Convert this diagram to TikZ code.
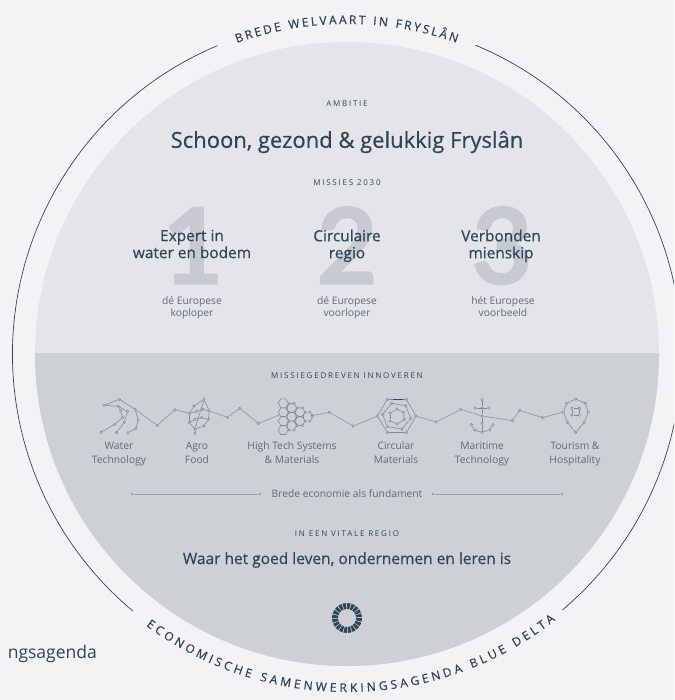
\documentclass[tikz,border=0pt]{standalone}
\usepackage{fontspec}
\setmainfont{Open Sans}
\newfontfamily\medf[FakeBold=0.5]{Open Sans}
\newfontfamily\capf[LetterSpace=22]{Open Sans}
\newfontfamily\numf[BoldFeatures={FakeBold=1}]{Lato}
\usetikzlibrary{decorations.text}
\definecolor{bgc}{HTML}{F3F3F6}
\definecolor{upc}{HTML}{E4E5E9}
\definecolor{loc}{HTML}{CDD0D5}
\definecolor{numc}{HTML}{C7CAD1}
\definecolor{dark}{HTML}{2F4558}
\definecolor{mid}{HTML}{5D6B7A}
\definecolor{icon}{HTML}{7F8A96}
\definecolor{connc}{HTML}{98A1AB}
\tikzset{
  x=1pt,y=-1pt,
  struts/.style={execute at begin node=\strut,execute at end node=\strut},
  caps/.style={font=\capf\fontsize{8}{9}\selectfont,text=dark,align=center},
  head/.style={font=\medf\fontsize{22}{24}\selectfont,text=dark},
  sub/.style={font=\medf\fontsize{15.4}{17}\selectfont,text=dark,align=center,struts},
  small/.style={font=\fontsize{10.3}{12}\selectfont,text=mid,align=center,struts},
  lab/.style={font=\fontsize{10.3}{14}\selectfont,text=mid,align=center,struts},
  num/.style={font=\numf\bfseries\fontsize{106}{106}\selectfont,text=numc},
  dot/.style={circle,draw=icon,fill=loc,line width=.5pt,inner sep=0pt,minimum size=2.6pt},
  enddot/.style={circle,fill=connc,inner sep=0pt,minimum size=2.8pt},
  iconline/.style={draw=icon,line width=.55pt},
  connl/.style={draw=connc,line width=.8pt},
  ring/.style={draw=dark,line width=.7pt},
  rulel/.style={draw=connc,line width=.8pt},
}
\begin{document}
\begin{tikzpicture}
\useasboundingbox (0,0) rectangle (674,700);
\clip (0,0) rectangle (674,700);
\fill[bgc] (0,0) rectangle (674,700);
% discs
\fill[upc] (347,354) circle[radius=312pt];
\begin{scope}
\clip (0,353) rectangle (674,700);
\fill[loc] (347,354) circle[radius=312pt];
\end{scope}
% outer ring
\draw[ring] ({347+334.5*cos(67.4)},{354-334.5*sin(67.4)}) arc[start angle=67.4,end angle=-49.9,radius=334.5pt];
\draw[ring] ({347+334.5*cos(112.8)},{354-334.5*sin(112.8)}) arc[start angle=112.8,end angle=230.2,radius=334.5pt];
% ring texts
\path[decorate,decoration={text along path,text align={fit to path},
  text={|\medf\fontsize{12}{13}\selectfont\color{dark}|BREDE WELVAART IN FRYSLÂN}}]
  ({347+330*cos(109.5)},{354-330*sin(109.5)}) arc[start angle=109.5,end angle=70.6,radius=330pt];
\path[decorate,decoration={text along path,text align={fit to path},
  text={|\medf\fontsize{12}{13}\selectfont\color{dark}|ECONOMISCHE SAMENWERKINGSAGENDA BLUE DELTA}}]
  ({347+338*cos(233.5)},{354-338*sin(233.5)}) arc[start angle=233.5,end angle=308,radius=338pt];
\node[anchor=base east,inner sep=0pt,font=\fontsize{17.5}{20}\selectfont,text=dark] (frag) at (97,658) {ngsagenda};
% top
\node[caps] (amb) at (347,104) {AMBITIE};
\node[head] (title) at (347,142) {Schoon, gezond \& gelukkig Fryslân};
\node[caps] (mis) at (347,183) {MISSIES 2030};
\node[num,anchor=base] (n1) at (193,284) {1};
\node[num,anchor=base] (n2) at (347,284) {2};
\node[num,anchor=base] (n3) at (502,284) {3};
\node[sub] (m1) at (192,246.5) {Expert in\\water en bodem};
\node[sub] (m2) at (347,246.5) {Circulaire\\regio};
\node[sub] (m3) at (501,246.5) {Verbonden\\mienskip};
\node[small] (d1) at (192,308) {dé Europese\\koploper};
\node[small] (d2) at (347,308) {dé Europese\\voorloper};
\node[small] (d3) at (503,308) {hét Europese\\voorbeeld};
% lower
\node[caps] (inn) at (347,376) {MISSIEGEDREVEN INNOVEREN};
\node[lab] (l1) at (119,455) {Water\\Technology};
\node[lab] (l2) at (197,455) {Agro\\Food};
\node[lab] (l3) at (292,455) {High Tech Systems\\\& Materials};
\node[lab] (l4) at (396,455) {Circular\\Materials};
\node[lab] (l5) at (482,455) {Maritime\\Technology};
\node[lab] (l6) at (575,455) {Tourism \&\\Hospitality};
\node[font=\fontsize{10.3}{14}\selectfont,text=mid] (br) at (347,494) {Brede economie als fundament};
\node[enddot] (b1) at (132,494) {};
\node[enddot] (b2) at (260,494) {};
\node[enddot] (b3) at (433,494) {};
\node[enddot] (b4) at (562,494) {};
\draw[rulel] (b1) -- (b2);
\draw[rulel] (b3) -- (b4);
\node[caps] (vit) at (347,534) {IN EEN VITALE REGIO};
\node[font=\medf\fontsize{15.5}{17}\selectfont,text=dark] (waar) at (347,560) {Waar het goed leven, ondernemen en leren is};
% logo
\foreach \a in {0,18,...,342}{
  \fill[dark] ({347+9*cos(\a)},{618+9*sin(\a)}) -- ({347+15*cos(\a)},{618+15*sin(\a)})
     arc[start angle=-\a,end angle=-\a-14,radius=15pt] -- ({347+9*cos(\a+14)},{618+9*sin(\a+14)}) -- cycle;
}
% icons (coordinates of 3x crop)
\begin{scope}[shift={(80,380)},x=.3333pt,y=-.3333pt]
\foreach \n/\px/\py in {
 wa/72/76,wb/118/58,wc/165/88,wd/115/79,we/142/94,wf/128/112,wg/104/133,wh/63/157,wi/175/120,wj/167/146,wk/144/158,wl/133/127,wm/109/158,wn/122/92,
 aa/372/58,ab/342/78,ac/328/100,ad/328/128,ae/345/147,af/372/138,ag/385/118,ah/388/93,ai/350/94,aj/368/88,ak/345/118,al/365/113,am/345/160,
 x1/232/136,x2/285/89,x3/442/112,x4/479/85,x5/535/130,x6/748/97,
 hr/697/107}
 {\node[dot] (\n) at (\px,\py) {};}
\foreach \a/\b in {wa/wb,wb/wc,wa/wd,wd/we,we/wl,wl/wm,wd/wn,wn/wf,wf/wg,wg/wh,wc/wi,wi/wj,wj/wk,
 aa/ab,ab/ac,ac/ad,ad/ae,ae/af,af/ag,ag/ah,ah/aa,aa/ae,ae/am,ai/aj,ak/al,ac/ai,ah/aj,ad/ak,ag/al}
 {\draw[iconline] (\a) -- (\b);}
\foreach \a/\b in {wc/x1,x1/x2,x2/ac,ah/x3,x3/x4,x4/x5}
 {\draw[connl] (\a) -- (\b);}
% hexagon cluster
\foreach \cx/\cy in {610/70,610/97,610/123,610/150,635/84,635/110,635/137,660/97,660/123,683/110}{
  \draw[iconline] (\cx-15,\cy) -- (\cx-7.5,\cy-13.5) -- (\cx+7.5,\cy-13.5) -- (\cx+15,\cy) -- (\cx+7.5,\cy+13.5) -- (\cx-7.5,\cy+13.5) -- cycle;
}
\foreach \cx/\cy in {635/84,635/110,635/137,660/97,660/123,683/110}{
  \foreach \ox/\oy in {-15/0,-7.5/-13.5,7.5/-13.5,15/0,7.5/13.5,-7.5/13.5}{
    \path[draw=icon,fill=loc,line width=.4pt] (\cx+\ox,\cy+\oy) circle[radius=1.1pt];
  }
}
\coordinate (hl) at (598,105);
\draw[connl] (x5) -- (hl);
\draw[connl] (hr) -- (x6);
\end{scope}
\begin{scope}[shift={(340,380)},x=.3333pt,y=-.3333pt]
\foreach \n/\px/\py in {
 y1/40/138,
 ca/112/108,cb/142/58,cc/199/58,cd/228/108,ce/199/158,cf/142/158,
 cg/155/70,ch/197/77,ci/212/115,cj/186/147,ck/142/140,cl/128/103,
 cm/150/100,cn/170/87,co/190/97,cp/193/118,cq/172/132,cr/150/123,
 y2/289/126,y3/362/88,
 ma/426/59,mb/426/84,mc/406/84,md/446/84,me/426/108,mf/426/130,mg/426/157,mh/394/134,mi/404/150,mj/449/150,mk/459/134,
 y4/517/122,y5/539/91,y6/607/113,
 ta/707/57,tb/736/70,tc/745/96,td/732/128,te/707/158,tf/683/128,tg/670/96,th/680/70,
 ti/696/85,tj/718/85,tk/718/105,tl/696/105}
 {\node[dot] (\n) at (\px,\py) {};}
\foreach \a/\b in {ca/cb,cb/cc,cc/cd,cd/ce,ce/cf,cf/ca,cg/ch,ch/ci,ci/cj,cj/ck,ck/cl,cl/cg,
 cm/cn,cn/co,co/cp,cp/cq,cq/cr,cr/cm,
 ma/mb,mc/md,mb/me,me/mf,mf/mg,mh/mi,mi/mg,mg/mj,mj/mk,
 ta/tb,tb/tc,tc/td,td/te,te/tf,tf/tg,tg/th,th/ta,ti/tj,tj/tk,tk/tl,tl/ti}
 {\draw[iconline] (\a) -- (\b);}
\foreach \a/\b in {x6/y1,y1/ca,cd/y2,y2/y3,y3/me,me/y4,y4/y5,y5/y6,y6/tg}
 {\draw[connl] (\a) -- (\b);}
\draw[draw=dark,line width=.6pt] (160,58) -- (188,58);
\end{scope}
\end{tikzpicture}
\end{document}
